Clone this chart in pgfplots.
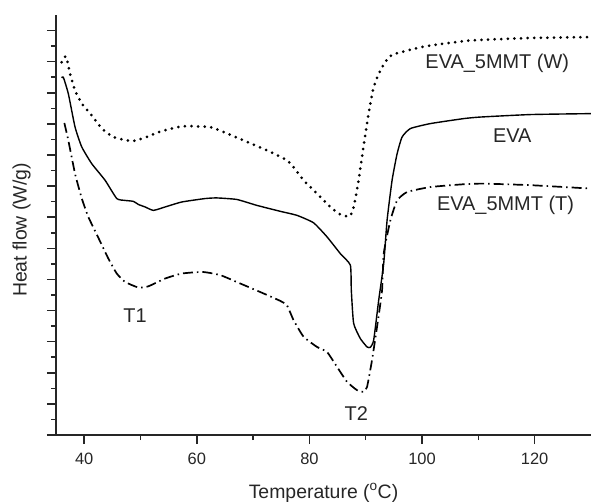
\documentclass[border=0pt]{standalone}
\usepackage{pgfplots}
\pgfplotsset{compat=1.18}
\usepackage{fontspec}
\setmainfont{Liberation Sans}
\begin{document}
\begin{tikzpicture}
\begin{axis}[
  scale only axis,
  width=535bp, height=420bp,
  xmin=35, xmax=130, ymin=0, ymax=13.5,
  axis x line*=bottom, axis y line*=left,
  axis line style={line width=1.8bp, black!85},
  xtick={40,60,80,100,120},
  minor x tick num=1,
  ytick={0,1,...,13},
  minor y tick num=1,
  yticklabels={},
  tick align=outside,
  major tick length=9bp, minor tick length=5bp,
  tick style={line width=1.5bp, black!85},
  /pgf/number format/assume math mode=true,
  ticklabel style={font=\fontsize{16.5}{19}\selectfont, text=black!85},
  xticklabel style={yshift=-6bp},
  xlabel={Temperature (\textsuperscript{o}C)},
  ylabel={Heat flow (W/g)},
  label style={font=\fontsize{19.5}{23}\selectfont, text=black!85},
  xlabel style={at={(axis description cs:0.5,-0.138)}, anchor=center},
  ylabel style={at={(axis description cs:-0.0645,0.488)}, anchor=center},
  clip=false,
]
\coordinate (O) at (rel axis cs:0,0);
% EVA_5MMT (W) dotted
\addplot[black, line width=3bp, line cap=round, dash pattern=on 0pt off 6.6bp, smooth, tension=0.4] coordinates {
(36.01,11.98)(36.78,12.17)(37.49,11.61)(38.38,11.08)(39.57,10.66)(41.04,10.34)(43.12,9.86)(45.19,9.58)(48.46,9.45)(50.82,9.56)(53.79,9.77)(57.35,9.92)(59.71,9.92)(62.38,9.90)(64.74,9.74)(68.30,9.47)(72.46,9.15)(76.01,8.83)(77.19,8.61)(78.96,8.19)(81.35,7.76)(83.71,7.33)(85.49,7.09)(87.14,7.03)(87.85,7.33)(88.74,8.19)(89.63,9.31)(90.52,10.34)(91.41,11.18)(92.60,11.72)(94.08,12.14)(95.57,12.27)(98.52,12.41)(101.49,12.52)(107.41,12.66)(110.38,12.70)(119.27,12.76)(130.0,12.79)
};
% EVA solid
\addplot[black, line width=1.4bp, smooth, tension=0.3] coordinates {
(36.01,11.48)(36.30,11.50)(37.19,10.97)(38.38,9.90)(39.57,9.26)(41.35,8.72)(43.71,8.19)(45.79,7.60)(47.27,7.54)(48.74,7.51)(49.63,7.41)(50.82,7.33)(52.30,7.22)(54.38,7.33)(57.35,7.49)(61.49,7.60)(63.57,7.62)(67.12,7.57)(70.68,7.38)(74.82,7.19)(77.79,7.06)(80.74,6.82)(83.12,6.37)(85.49,5.83)(87.27,5.46)(87.44,4.65)(87.85,3.59)(89.04,3.10)(90.24,2.83)(90.82,2.82)(91.41,3.05)(92.30,4.33)(93.19,5.51)(93.79,6.90)(94.68,8.19)(95.57,9.04)(96.46,9.58)(97.93,9.85)(101.49,10.01)(107.41,10.17)(110.38,10.22)(119.27,10.30)(130.0,10.33)
};
% EVA_5MMT (T) dash-dot
\addplot[black, line width=1.7bp, dash pattern=on 10bp off 4bp on 1.5bp off 4bp, smooth, tension=0.3] coordinates {
(36.48,10.03)(37.19,9.47)(38.38,8.40)(39.57,7.61)(40.74,7.01)(42.52,6.34)(44.30,5.67)(45.79,5.19)(47.27,4.92)(49.63,4.74)(51.41,4.78)(54.38,5.03)(57.35,5.19)(61.04,5.24)(64.16,5.14)(67.71,4.87)(71.85,4.55)(74.82,4.31)(76.01,4.17)(77.19,3.69)(78.96,3.16)(81.35,2.83)(83.12,2.67)(84.90,2.19)(86.68,1.71)(88.46,1.44)(89.63,1.39)(90.24,1.55)(91.12,2.41)(92.01,3.48)(92.90,4.65)(93.19,5.83)(94.38,6.90)(95.57,7.54)(97.35,7.81)(101.49,7.97)(107.41,8.06)(110.91,8.08)(119.27,8.03)(130.0,7.92)
};
\node[font=\fontsize{20}{24}\selectfont, text=black!85] at (axis cs:113.35,11.93) {EVA\_5MMT (W)};
\node[font=\fontsize{20}{24}\selectfont, text=black!85] at (axis cs:116.01,9.63) {EVA};
\node[font=\fontsize{20}{24}\selectfont, text=black!85] at (axis cs:114.82,7.38) {EVA\_5MMT (T)};
\node[font=\fontsize{20}{24}\selectfont, text=black!85] at (axis cs:49.04,3.85) {T1};
\node[font=\fontsize{20}{24}\selectfont, text=black!85] at (axis cs:88.33,0.70) {T2};
\end{axis}
\pgfresetboundingbox
\path (O) ++(-56bp,-67bp) rectangle ++(591bp,502bp);
\end{tikzpicture}
\end{document}
